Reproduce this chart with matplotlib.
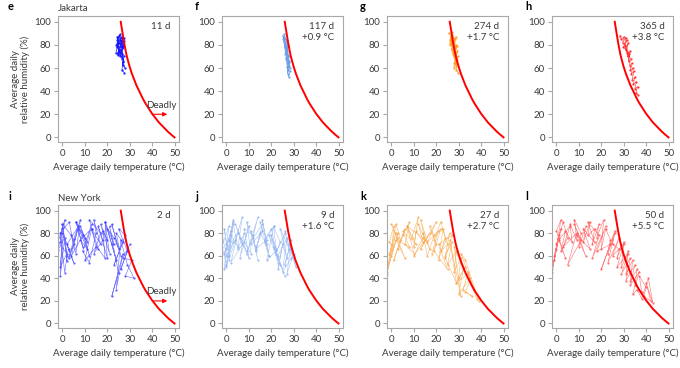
import matplotlib
matplotlib.use("Agg")
import matplotlib.pyplot as plt

plt.rcParams["font.family"] = ["Lato", "DejaVu Sans"]

# deadly threshold curve (temperature, relative humidity)
thr_t = [26, 26.5, 27, 27.5, 28, 28.5, 29, 30, 31, 32, 33, 34, 35, 36, 37,
         38, 39, 40, 41, 42, 43, 44, 45, 46, 47, 48, 49, 50]
thr_rh = [100, 94, 88, 82, 77, 72, 68, 61, 55, 50, 45, 41, 37, 33, 29.5,
          26.5, 23.5, 20.5, 18, 15.5, 13, 11, 9, 7, 5, 3.3, 1.6, 0]

# Jakarta panels
e_t = [24.5, 25.2, 24.1, 25.8, 26.3, 25.0, 24.6, 26.8, 25.5, 24.2,
       25.9, 26.5, 27.1, 25.3, 24.8, 26.0, 25.6, 23.8, 24.9, 26.7,
       27.3, 26.2, 25.1, 24.4, 25.7, 26.9, 27.5, 26.4, 25.8, 26.6,
       27.2, 26.1, 27.4, 26.8, 27.8, 27.0, 26.5, 27.6]
e_rh = [84, 88, 80, 86, 82, 76, 72, 85, 89, 78,
        83, 87, 80, 74, 71, 79, 84, 73, 82, 77,
        86, 81, 75, 87, 70, 78, 83, 68, 74, 72,
        66, 76, 70, 63, 60, 65, 58, 56]

f_t = [25.5, 26.2, 25.0, 26.8, 27.3, 26.0, 25.4, 26.6, 27.1, 25.8,
       26.9, 27.5, 26.3, 25.7, 27.8, 26.4, 27.0, 28.1, 26.7, 27.4,
       26.1, 27.9, 28.3, 27.2, 26.5, 27.6, 28.0, 27.3, 26.8, 27.7,
       28.4, 27.1]
f_rh = [86, 82, 88, 84, 80, 78, 85, 76, 82, 89,
        74, 79, 72, 83, 70, 68, 76, 66, 73, 64,
        80, 62, 60, 71, 77, 58, 65, 55, 69, 52,
        57, 61]

g_t = [25.5, 26.8, 26.0, 27.4, 25.9, 27.0, 28.2, 26.5, 27.6, 28.6,
       26.9, 27.9, 28.8, 27.3, 26.4, 28.0, 29.1, 27.7, 28.5, 29.4,
       27.2, 28.3, 29.0, 28.7, 29.6, 28.1, 27.8, 29.3, 28.9, 29.8]
g_rh = [90, 88, 84, 86, 80, 91, 85, 82, 78, 87,
        76, 83, 80, 72, 88, 74, 79, 70, 68, 75,
        84, 66, 73, 62, 70, 64, 60, 67, 58, 56]

h_t = [28.2, 29.0, 30.1, 29.5, 31.0, 30.4, 31.5, 29.8, 30.9, 32.0,
       31.3, 30.6, 32.4, 31.8, 32.9, 32.2, 33.1, 31.6, 32.7, 33.5,
       33.0, 34.0, 33.4, 34.5, 33.8, 35.0, 34.3, 35.6, 35.0, 36.2,
       35.4, 36.5]
h_rh = [88, 85, 87, 82, 86, 80, 84, 78, 76, 82,
        74, 79, 72, 70, 75, 66, 68, 73, 62, 64,
        58, 60, 55, 57, 50, 52, 46, 48, 42, 44,
        38, 37]

# New York panels
i_t = [-1, 0, 2, 1, -1, 3, 5, 2, 0, 4,
       6, 8, 5, 3, 7, 9, 6, 10, 12, 8,
       11, 13, 9, 12, 15, 14, 17, 13, 16, 19,
       18, 20, 17, 21, 19, 22, 24, 20, 23, 25,
       22, 26, 24, 27, 23, 28, 25, 29, 26, 30,
       27, 31, 28, 32, 29, 26, 24, 27, 22, 25,
       21, 23, 19, 20, 16, 18, 14, 17, 12, 15,
       10, 13, 8, 11, 6, 9, 4, 7, 2, 5,
       0, 3, -1, 1, -2, 2, 0, -1, 1, -2]
i_rh = [72, 85, 60, 45, 80, 90, 70, 55, 88, 78,
        62, 92, 75, 58, 84, 68, 90, 76, 60, 86,
        72, 88, 64, 54, 80, 92, 70, 84, 66, 58,
        82, 74, 88, 62, 90, 70, 56, 84, 76, 66,
        88, 60, 80, 72, 52, 78, 84, 64, 48, 70,
        58, 56, 42, 40, 52, 74, 30, 62, 24, 45,
        86, 70, 90, 58, 86, 74, 62, 80, 92, 68,
        56, 84, 74, 66, 90, 78, 60, 86, 70, 54,
        80, 66, 50, 92, 72, 62, 88, 42, 76, 65]

j_t = [0, -1, 1, 3, 0, 2, 5, 3, 1, 4,
       7, 5, 8, 6, 10, 8, 11, 9, 13, 11,
       14, 12, 16, 13, 15, 18, 16, 19, 17, 20,
       22, 19, 23, 21, 24, 22, 26, 23, 25, 27,
       24, 28, 26, 29, 27, 30, 28, 31, 26, 29,
       25, 27, 23, 26, 21, 24, 20, 22, 18, 21,
       17, 19, 15, 18, 13, 16, 11, 14, 9, 12,
       8, 10, 6, 9, 4, 7, 2, 5, 0, 3,
       1, -1, 2, 0, -2, 1, -1, 3, 0, -2]
j_rh = [70, 84, 60, 92, 50, 78, 68, 88, 56, 74,
        94, 66, 80, 58, 86, 72, 62, 90, 68, 82,
        56, 76, 88, 64, 80, 70, 92, 60, 74, 84,
        66, 78, 54, 86, 72, 62, 80, 48, 70, 58,
        84, 66, 52, 74, 44, 62, 70, 50, 82, 58,
        46, 76, 60, 42, 68, 52, 78, 64, 56, 86,
        72, 60, 90, 74, 66, 82, 70, 94, 62, 78,
        84, 58, 76, 64, 88, 70, 54, 80, 66, 90,
        74, 62, 82, 52, 68, 86, 48, 72, 60, 80]

k_t = [-1, 1, 0, 3, -2, 2, 4, 1, 6, 3,
       5, 8, 6, 10, 7, 9, 12, 10, 11, 14,
       12, 15, 13, 17, 14, 16, 19, 17, 20, 18,
       21, 19, 22, 24, 21, 23, 25, 22, 26, 24,
       27, 25, 29, 28, 31, 30, 33, 29, 34, 32,
       36, 33, 35, 38, 34, 37, 39, 33, 31, 35,
       30, 32, 28, 31, 26, 29, 24, 27, 21, 25,
       19, 22, 16, 20, 13, 17, 10, 14, 7, 11,
       5, 8, 2, 6, 0, 3, -1, 2, -2, 0]
k_rh = [72, 86, 60, 80, 46, 88, 74, 56, 84, 66,
        78, 90, 70, 62, 86, 76, 94, 68, 82, 72,
        88, 74, 92, 66, 80, 60, 78, 86, 70, 62,
        82, 74, 90, 76, 56, 84, 70, 64, 80, 60,
        72, 52, 64, 46, 58, 40, 50, 36, 44, 30,
        24, 28, 38, 22, 46, 30, 20, 56, 62, 40,
        26, 48, 68, 24, 74, 36, 58, 78, 70, 48,
        64, 84, 72, 90, 66, 80, 60, 76, 86, 70,
        82, 68, 74, 58, 88, 76, 62, 80, 44, 70]

l_t = [-1, 1, -2, 2, 0, 3, 5, 2, 4, 7,
       6, 9, 8, 11, 10, 13, 12, 15, 14, 17,
       16, 19, 18, 21, 20, 22, 24, 23, 26, 25,
       28, 27, 30, 29, 32, 31, 34, 33, 36, 35,
       38, 37, 40, 39, 42, 40, 43, 41, 38, 36,
       34, 37, 33, 35, 31, 33, 29, 32, 27, 30,
       25, 28, 23, 26, 20, 24, 18, 22, 16, 19,
       14, 17, 12, 15, 9, 13, 8, 11, 5, 9,
       3, 6, 1, 4, 0, 2, -1, 1, -2, 0]
l_rh = [60, 78, 48, 84, 70, 90, 76, 64, 82, 72,
        88, 74, 92, 80, 68, 86, 72, 90, 78, 84,
        70, 88, 76, 92, 66, 84, 74, 62, 80, 70,
        66, 58, 72, 50, 64, 44, 56, 38, 48, 34,
        28, 42, 32, 24, 20, 36, 18, 40, 22, 30,
        26, 46, 34, 52, 38, 58, 44, 62, 50, 70,
        60, 76, 54, 82, 48, 70, 64, 86, 58, 78,
        90, 72, 84, 66, 78, 60, 88, 74, 52, 80,
        68, 86, 74, 58, 82, 92, 56, 76, 46, 66]

panels = [
    ("e", e_t, e_rh, "#1010ff", 0.9, "11 d", None, "Jakarta"),
    ("f", f_t, f_rh, "#6a9ce8", 0.9, "117 d", "+0.9 \u00b0C", None),
    ("g", g_t, g_rh, "#ff9a1a", 0.9, "274 d", "+1.7 \u00b0C", None),
    ("h", h_t, h_rh, "#ff1a1a", 0.8, "365 d", "+3.8 \u00b0C", None),
    ("i", i_t, i_rh, "#3a3aff", 0.7, "2 d", None, "New York"),
    ("j", j_t, j_rh, "#8cb0ee", 0.7, "9 d", "+1.6 \u00b0C", None),
    ("k", k_t, k_rh, "#f7a445", 0.7, "27 d", "+2.7 \u00b0C", None),
    ("l", l_t, l_rh, "#ff4a4a", 0.7, "50 d", "+5.5 \u00b0C", None),
]

W, H = 680, 368
fig = plt.figure(figsize=(W / 100, H / 100), dpi=100)

lefts = [58, 222, 387, 552]
rows = [(16, 142), (205, 328)]
ax_w = 121
grey = "#a8a8a8"
tcol = "#3a3a3a"

for n, (letter, xs, ys, col, alpha, days, dtemp, city) in enumerate(panels):
    r, c = divmod(n, 4)
    top, bot = rows[r]
    ax = fig.add_axes([lefts[c] / W, 1 - bot / H, ax_w / W, (bot - top) / H])
    ax.plot(xs, ys, "-", color=col, lw=0.45, alpha=alpha,
            marker=".", ms=1.3, zorder=2)
    ax.plot(thr_t, thr_rh, color="#ff0000", lw=1.4, zorder=3)
    ax.set_xlim(-2, 52)
    ax.set_ylim(-4, 105)
    ax.set_xticks([0, 10, 20, 30, 40, 50])
    ax.set_yticks([0, 20, 40, 60, 80, 100])
    for s in ax.spines.values():
        s.set_color(grey)
        s.set_linewidth(0.8)
    ax.tick_params(colors=grey, labelcolor=tcol, labelsize=7, length=3,
                   width=0.8, pad=2)
    ax.set_xlabel("Average daily temperature (\u00b0C)", fontsize=7,
                  color=tcol, labelpad=3)
    if c == 0:
        ax.set_ylabel("Average daily\nrelative humidity (%)", fontsize=7,
                      color=tcol, labelpad=3, linespacing=1.1)
        ax.annotate("", xy=(48, 20), xytext=(39, 20),
                    arrowprops=dict(arrowstyle="-|>", color="#ff0000",
                                    lw=0.8, mutation_scale=6))
        ax.text(44, 24, "Deadly", fontsize=7, color=tcol,
                ha="center", va="bottom")
    label = days if dtemp is None else days + "\n" + dtemp
    ax.text(0.93, 0.95, label, transform=ax.transAxes, fontsize=7,
            color=tcol, ha="right", va="top", linespacing=1.3)
    fig.text((lefts[c] - 50) / W if c == 0 else (lefts[c] - 27) / W,
             1 - (top - 9) / H, letter, fontsize=8, fontweight="bold",
             ha="left", va="center")
    if city:
        ax.text(0.0, 1.02, city, transform=ax.transAxes, fontsize=7,
                color=tcol, ha="left", va="bottom")

fig.savefig("out.png", dpi=100)
